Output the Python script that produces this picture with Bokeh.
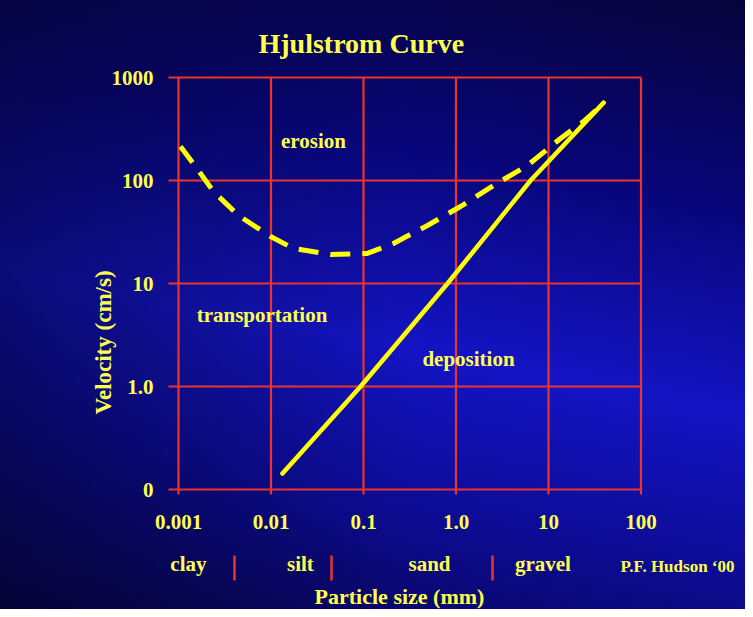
from bokeh.plotting import figure
from bokeh.models import FixedTicker, Range1d, ColumnDataSource, LogAxis
from bokeh.core.properties import value
from bokeh.embed import file_html
from bokeh.resources import INLINE

# ---------------- data ----------------
x_ticks = [0.001, 0.01, 0.1, 1.0, 10.0, 100.0]
x_tick_labels = ["0.001", "0.01", "0.1", "1.0", "10", "100"]
y_ticks = [0.1, 1.0, 10.0, 100.0, 1000.0]
y_tick_labels = ["0", "1.0", "10", "100", "1000"]

# erosion threshold (dashed curve)
erosion_size = [0.00105, 0.00145, 0.00239, 0.00445, 0.0099, 0.0175, 0.044,
                0.110, 0.211, 0.492, 1.12, 2.54, 5.93, 13.5, 23.9, 39.3]
erosion_velocity = [214, 146, 78.2, 45.7, 28.6, 21.9, 19.1,
                    19.6, 24.5, 36.6, 55.9, 89.4, 140, 256, 374, 559]

# deposition threshold (solid line)
deposition_size = [0.0133, 0.093, 0.81, 6.4, 39.5]
deposition_velocity = [0.143, 1.0, 10.0, 100.0, 570.0]

zone_names = ["erosion", "transportation", "deposition"]
zone_size = [0.0288, 0.0080, 1.365]
zone_velocity = [244.0, 5.0, 1.83]

# particle size classes (label centres and class boundaries, mm)
class_names = ["clay", "silt", "sand", "gravel"]
class_centers = [0.00128, 0.0208, 0.517, 8.7]
class_bounds = [0.004, 0.045, 2.5]

credit = "P.F. Hudson \u201800"

# ---------------- layout / style ----------------
FONT = "Liberation Serif"
TXT = "#ffff4d"
LINE = "#ffff00"
GRID = "#e8352e"
PX_X = 92.5    # pixels per decade, x
PX_Y = 103.0   # pixels per decade, y


def x_at(px_right_of_first_line):
    """particle size lying the given number of pixels right of the 0.001 line"""
    return x_ticks[0] * 10 ** (px_right_of_first_line / PX_X)


def y_at(px_below_top_line):
    """velocity value lying the given number of pixels below the 1000 line"""
    return y_ticks[-1] * 10 ** (-px_below_top_line / PX_Y)


x_start = x_at(-33)
x_end = x_at(567)
grid_x0 = x_at(-10)     # left end of the horizontal grid lines
y_end = y_at(-2)
y_start = y_at(532)
axis_y = y_at(417)      # bottom end of the vertical grid lines
class_y = y_at(478)     # line of the size-class row

p = figure(width=745, height=609, x_axis_type="log", y_axis_type="log",
           x_range=Range1d(x_start, x_end), y_range=Range1d(y_start, y_end),
           output_backend="svg", toolbar_location=None,
           min_border_left=145, min_border_right=0,
           min_border_top=75, min_border_bottom=0)

p.background_fill_color = None
p.border_fill_color = None
p.outline_line_color = None
p.styles = {"background": (
    "linear-gradient(to right, rgba(0,0,25,0.45) 0%, rgba(0,0,25,0) 55%), "
    "linear-gradient(191deg, #06033a 0%, #08067a 28%, #1414c4 55%, "
    "#0d0c98 75%, #07044e 100%)")}
p.xgrid.visible = False
p.ygrid.visible = False

# title
p.title.text = "Hjulstrom Curve"
p.title.text_font = FONT
p.title.text_font_style = "bold"
p.title.text_font_size = "28px"
p.title.text_color = TXT
p.title.align = "left"
p.title.offset = 113
p.title.standoff = 33


def style_axis(ax):
    ax.axis_line_color = None
    ax.major_tick_line_color = None
    ax.minor_tick_line_color = None
    ax.major_tick_out = 0
    ax.major_tick_in = 0
    ax.major_label_text_font = FONT
    ax.major_label_text_font_style = "bold"
    ax.major_label_text_font_size = "21px"
    ax.major_label_text_color = TXT
    ax.axis_label_text_font = FONT
    ax.axis_label_text_font_style = "bold"
    ax.axis_label_text_font_size = "22px"
    ax.axis_label_text_color = TXT


xa = p.xaxis[0]
style_axis(xa)
xa.ticker = FixedTicker(ticks=x_ticks)
xa.major_label_overrides = dict(zip(x_ticks, x_tick_labels))
xa.major_label_standoff = 20
xa.bounds = (x_ticks[0], x_ticks[-1])
xa.fixed_location = axis_y

ya = p.yaxis[0]
style_axis(ya)
ya.ticker = FixedTicker(ticks=y_ticks)
ya.major_label_overrides = dict(zip(y_ticks, y_tick_labels))
ya.major_label_standoff = -8
ya.bounds = (y_ticks[0], y_ticks[-1])
ya.axis_label = "Velocity (cm/s)"
ya.axis_label_text_font_size = "23px"
ya.axis_label_standoff = -7

# second bottom axis: size classes, boundaries as red minor ticks
class_axis = LogAxis(ticker=FixedTicker(ticks=class_centers, minor_ticks=class_bounds))
style_axis(class_axis)
class_axis.major_label_overrides = dict(zip(class_centers, class_names))
class_axis.major_label_standoff = -29
class_axis.minor_tick_line_color = GRID
class_axis.minor_tick_line_width = 2.5
class_axis.minor_tick_in = 0
class_axis.minor_tick_out = 25
class_axis.bounds = (x_ticks[0], x_at(442))
class_axis.fixed_location = class_y
class_axis.axis_label = "Particle size (mm)"
class_axis.axis_label_standoff = 5
p.add_layout(class_axis, "below")

# grid drawn as segments from the tick lists
p.segment(x0=x_ticks, y0=[axis_y] * len(x_ticks), x1=x_ticks, y1=[y_ticks[-1]] * len(x_ticks),
          line_color=GRID, line_width=2.2)
p.segment(x0=[grid_x0] * len(y_ticks), y0=y_ticks, x1=[x_ticks[-1]] * len(y_ticks), y1=y_ticks,
          line_color=GRID, line_width=2.2)

# curves
p.line(erosion_size, erosion_velocity, line_color=LINE, line_width=5,
       line_dash="20 12")
p.line(deposition_size, deposition_velocity, line_color=LINE, line_width=4.5,
       line_cap="round")

# zone names
zsrc = ColumnDataSource(dict(x=zone_size, y=zone_velocity, t=zone_names))
p.text(x="x", y="y", text="t", source=zsrc, text_font=value(FONT),
       text_font_style="bold", text_font_size="21px", text_color=TXT,
       text_align="center", text_baseline="middle")

# credit
p.text(x=[x_at(442)], y=[y_at(489)], text=[credit],
       text_font=value(FONT), text_font_style="bold", text_font_size="17px",
       text_color=TXT, text_align="left", text_baseline="middle")

open("out.html", "w").write(file_html(p, INLINE))
